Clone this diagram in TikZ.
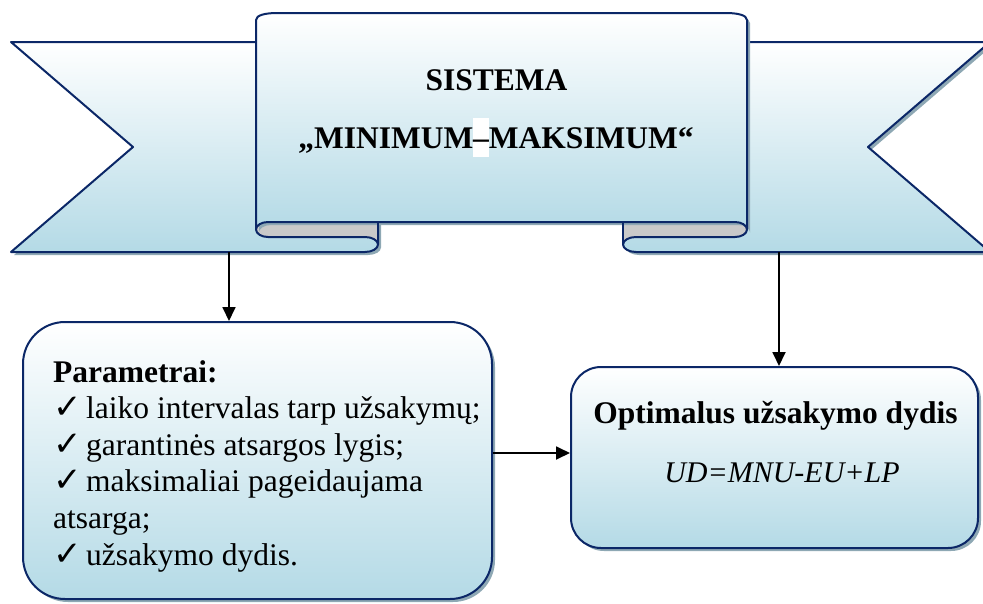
\documentclass[tikz,border=0pt]{standalone}
\usepackage{fontspec}
\setmainfont{Liberation Serif}
\newfontfamily\symfont{DejaVu Sans}
\usetikzlibrary{arrows.meta}
\definecolor{navy}{HTML}{0B2767}
\definecolor{skyb}{HTML}{B4DAE6}
\definecolor{shadowc}{HTML}{8EA8B4}
\definecolor{curlgrey}{HTML}{C9C9C9}
\newcommand{\chk}{\makebox[33pt][l]{{\symfont\bfseries\fontsize{34}{34}\selectfont ✓}}}
% outlines of the banner pieces
\def\lribbon{(11,42) -- (378,42) -- (378,244.5) .. controls (378,248.6) and (372.2,252) .. (365,252) -- (11,252) -- (133,147) -- cycle}
\def\rribbon{(990,42) -- (623,42) -- (623,244.5) .. controls (623,248.6) and (628.8,252) .. (636,252) -- (990,252) -- (868,147) -- cycle}
\def\panelpath{(256,229.5) -- (256,20) .. controls (256,15) and (266,13) .. (277,13) -- (726,13) .. controls (737,13) and (747,15) .. (747,20) -- (747,229.5) .. controls (747,225.4) and (741.6,222) .. (735,222) -- (268,222) .. controls (261.4,222) and (256,225.4) .. (256,229.5) -- cycle}
\begin{document}
\begin{tikzpicture}[x=1pt,y=-1pt,
  outline/.style={draw=navy,line width=2pt,line join=round},
  grad/.style={top color=white,bottom color=skyb},
  shade/.style={fill=shadowc,shift={(3,3)}},
  box/.style={outline,grad,rounded corners=#1,inner sep=0pt},
  arr/.style={line width=1.8pt,-{Triangle[length=14pt,width=13pt]}},
  txt/.style={font=\fontsize{31.5}{36.7}\selectfont,inner sep=0pt}]
\useasboundingbox (0,0) rectangle (983,603);

% banner: side ribbons
\fill[shade] \lribbon;
\fill[shade] \rribbon;
\path[outline,grad] \lribbon;
\path[outline,grad] \rribbon;

% back sides of the rolled ends
\fill[curlgrey] (268,222) -- (378,222) -- (378,244.5) .. controls (378,240.4) and (372.2,237) .. (365,237) -- (268,237) .. controls (261.4,237) and (256,233.6) .. (256,229.5) .. controls (256,225.4) and (261.4,222) .. (268,222) -- cycle;
\fill[curlgrey] (735,222) -- (623,222) -- (623,244.5) .. controls (623,240.4) and (628.8,237) .. (636,237) -- (735,237) .. controls (741.6,237) and (747,233.6) .. (747,229.5) .. controls (747,225.4) and (741.6,222) .. (735,222) -- cycle;

% banner: central panel
\fill[shade] \panelpath;
\path[outline,grad] \panelpath;

% front edges of the rolled ends
\draw[outline] (378,222) -- (378,244.5);
\draw[outline] (623,222) -- (623,244.5);
\draw[outline] (256,229.5) .. controls (256,233.6) and (261.4,237) .. (268,237) -- (365,237) .. controls (372.2,237) and (378,240.4) .. (378,244.5);
\draw[outline] (747,229.5) .. controls (747,233.6) and (741.6,237) .. (735,237) -- (636,237) .. controls (628.8,237) and (623,240.4) .. (623,244.5);

% banner title
\node[txt,anchor=base,font=\fontsize{31.5}{36.7}\selectfont\bfseries] (t1) at (496.5,90) {SISTEMA};
\node[txt,anchor=base,font=\fontsize{31.5}{36.7}\selectfont\bfseries] (t2) at (496,148)
  {„MINIMUM{\setlength{\fboxsep}{0pt}\colorbox{white}{\rule[-9pt]{0pt}{39pt}–}}MAKSIMUM“};

% boxes
\fill[shadowc,rounded corners=42pt] (26,325) rectangle (495,602);
\node[box=42pt,minimum width=469pt,minimum height=277pt] (lb) at (257.5,460.5) {};
\fill[shadowc,rounded corners=30pt] (574,370) rectangle (981,551);
\node[box=30pt,minimum width=407pt,minimum height=181pt] (rb) at (774.5,457.5) {};

% left box text
\node[txt,anchor=base west] (p0) at (53,382) {\bfseries Parametrai:};
\node[txt,anchor=base west] (p1) at (53,418.5) {\chk laiko intervalas tarp užsakymų;};
\node[txt,anchor=base west] (p2) at (53,455) {\chk garantinės atsargos lygis;};
\node[txt,anchor=base west] (p3) at (53,491.7) {\chk maksimaliai pageidaujama};
\node[txt,anchor=base west] (p4) at (53,528.3) {atsarga;};
\node[txt,anchor=base west] (p5) at (53,565) {\chk užsakymo dydis.};

% right box text
\node[txt,anchor=base,font=\fontsize{31.5}{36.7}\selectfont\bfseries] (o1) at (775.5,423) {Optimalus užsakymo dydis};
\node[txt,anchor=base,font=\fontsize{30}{36}\selectfont\itshape] (o2) at (782,482) {UD=MNU-EU+LP};

% connectors
\coordinate (bl) at (229,252);
\coordinate (br) at (779,252);
\draw[arr] (bl) -- (bl |- lb.north);
\draw[arr] (br) -- (br |- rb.north);
\draw[arr] (lb.east |- 0,453) -- (rb.west |- 0,453);
\end{tikzpicture}
\end{document}
